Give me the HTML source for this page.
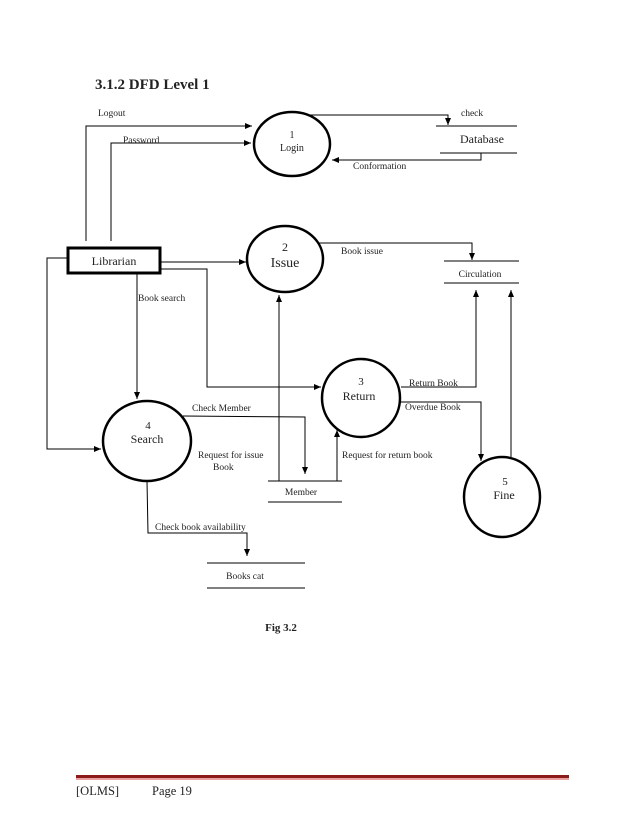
<!DOCTYPE html>
<html><head><meta charset="utf-8"><style>
html,body{margin:0;padding:0;background:#fff;}
svg{display:block}
text{font-family:"Liberation Serif",serif;fill:#222;}
</style></head><body>
<svg width="638" height="826" viewBox="0 0 638 826" xmlns="http://www.w3.org/2000/svg">
<defs>
<marker id="a" markerWidth="8" markerHeight="8" refX="7" refY="4" orient="auto" markerUnits="userSpaceOnUse">
<path d="M0,1 L7,4 L0,7 z" fill="#000"/></marker>
</defs>
<text x="95" y="89" font-size="15" font-weight="bold" fill="#000">3.1.2 DFD Level 1</text>

<g fill="none" stroke="#000" stroke-width="1">
<!-- logout / password -->
<polyline points="86,241 86,126 252,126" marker-end="url(#a)"/>
<polyline points="111,241 111,143 251,143" marker-end="url(#a)"/>
<!-- check -->
<polyline points="310,115 448,115 448,125" marker-end="url(#a)"/>
<line x1="436" y1="126" x2="517" y2="126"/>
<line x1="440" y1="153" x2="517" y2="153"/>
<!-- conformation -->
<polyline points="481,153 481,160 332,160" marker-end="url(#a)"/>
<!-- librarian to issue -->
<line x1="160" y1="262" x2="246" y2="262" marker-end="url(#a)"/>
<!-- book issue -->
<polyline points="318,243 472,243 472,260" marker-end="url(#a)"/>
<line x1="444" y1="261" x2="519" y2="261"/>
<line x1="444" y1="283" x2="519" y2="283"/>
<!-- librarian to return -->
<polyline points="160,269 207,269 207,387 321,387" marker-end="url(#a)"/>
<!-- book search -->
<polyline points="137,273 137,399" marker-end="url(#a)"/>
<!-- left loop -->
<polyline points="67,258 47,258 47,449 101,449" marker-end="url(#a)"/>
<!-- member up to issue -->
<line x1="279" y1="481" x2="279" y2="295" marker-end="url(#a)"/>
<!-- check member -->
<polyline points="183,416 305,417 305,474" marker-end="url(#a)"/>
<line x1="268" y1="481" x2="342" y2="481"/>
<line x1="268" y1="502" x2="342" y2="502"/>
<!-- request for return -->
<polyline points="337,481 337,430" marker-end="url(#a)"/>
<!-- return book -->
<polyline points="401,387 476,387 476,290" marker-end="url(#a)"/>
<!-- overdue -->
<polyline points="401,402 481,402 481,461" marker-end="url(#a)"/>
<!-- fine up -->
<line x1="511" y1="457" x2="511" y2="290" marker-end="url(#a)"/>
<!-- check availability -->
<polyline points="147,481 148,533 247,533 247,556" marker-end="url(#a)"/>
<line x1="207" y1="563" x2="305" y2="563"/>
<line x1="207" y1="588" x2="305" y2="588"/>
</g>

<g fill="#fff" stroke="#000" stroke-width="2.5">
<ellipse cx="292" cy="144" rx="38" ry="32"/>
<ellipse cx="285" cy="259" rx="38" ry="33"/>
<ellipse cx="361" cy="398" rx="39" ry="39"/>
<ellipse cx="147" cy="441" rx="44" ry="40"/>
<ellipse cx="502" cy="497" rx="38" ry="40"/>
<rect x="68" y="248" width="92" height="25" stroke-width="3"/>
</g>

<g font-size="9.5" text-anchor="start">
<text x="98" y="116">Logout</text>
<text x="123" y="143">Password</text>
<text x="461" y="116">check</text>
<text x="353" y="169">Conformation</text>
<text x="341" y="254">Book issue</text>
<text x="138" y="301">Book search</text>
<text x="409" y="386">Return Book</text>
<text x="405" y="410">Overdue Book</text>
<text x="192" y="411">Check Member</text>
<text x="198" y="458">Request for issue</text>
<text x="213" y="470">Book</text>
<text x="342" y="458">Request for return book</text>
<text x="155" y="530">Check book availability</text>
</g>
<g text-anchor="middle">
<text x="292" y="138" font-size="10">1</text>
<text x="292" y="151" font-size="10">Login</text>
<text x="482" y="143" font-size="12">Database</text>
<text x="114" y="265" font-size="12">Librarian</text>
<text x="285" y="251" font-size="12">2</text>
<text x="285" y="267" font-size="14">Issue</text>
<text x="480" y="277" font-size="9.5">Circulation</text>
<text x="361" y="385" font-size="11">3</text>
<text x="359" y="400" font-size="12">Return</text>
<text x="148" y="429" font-size="11">4</text>
<text x="147" y="443" font-size="12">Search</text>
<text x="301" y="495" font-size="9.5">Member</text>
<text x="505" y="485" font-size="11">5</text>
<text x="504" y="499" font-size="12">Fine</text>
<text x="245" y="579" font-size="9.5">Books cat</text>
<text x="281" y="631" font-size="11" font-weight="bold" fill="#000">Fig 3.2</text>
</g>

<rect x="76" y="775" width="493" height="3" fill="#8b1a1a"/>
<rect x="76" y="778" width="493" height="2" fill="#e8a0a0"/>
<text x="76" y="795" font-size="12.5">[OLMS]</text>
<text x="152" y="795" font-size="12.5">Page 19</text>
</svg>
</body></html>
